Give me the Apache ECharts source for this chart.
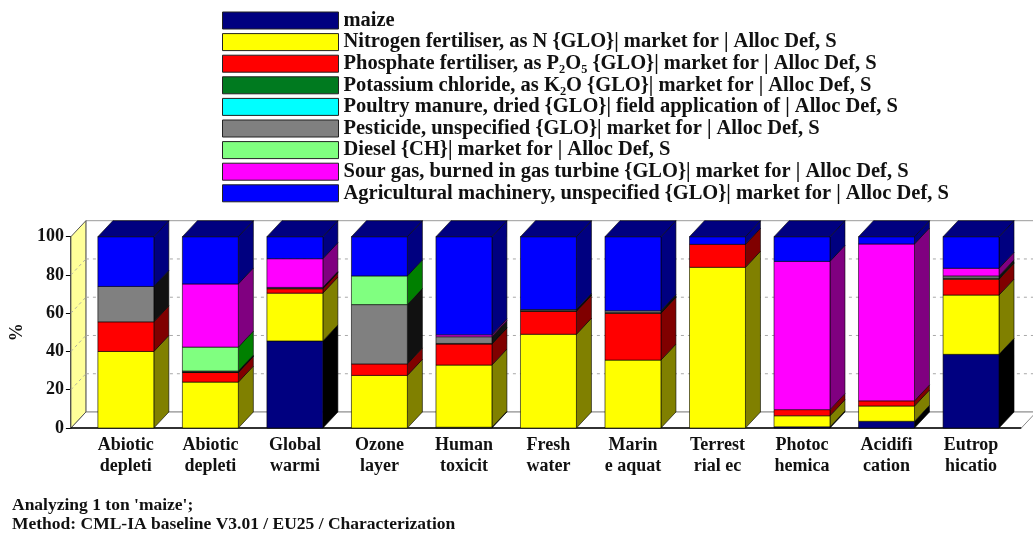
<!DOCTYPE html>
<html>
<head>
<meta charset="utf-8">
<script src="https://cdn.jsdelivr.net/npm/echarts@6/dist/echarts.min.js"></script>
<style>html,body{margin:0;padding:0;background:#fff}#c{width:1033px;height:536px}</style>
</head>
<body>
<div id="c"></div>
<script>
// ---- data ----
const categories = ['Abiotic\ndepleti','Abiotic\ndepleti','Global\nwarmi','Ozone\nlayer','Human\ntoxicit','Fresh\nwater','Marin\ne aquat','Terrest\nrial ec','Photoc\nhemica','Acidifi\ncation','Eutrop\nhicatio'];
const yTicks = [0, 20, 40, 60, 80, 100];
const seriesNames = [
  'maize',
  'Nitrogen fertiliser, as N {GLO}| market for | Alloc Def, S',
  'Phosphate fertiliser, as P\u2082O\u2085 {GLO}| market for | Alloc Def, S',
  'Potassium chloride, as K\u2082O {GLO}| market for | Alloc Def, S',
  'Poultry manure, dried {GLO}| field application of | Alloc Def, S',
  'Pesticide, unspecified {GLO}| market for | Alloc Def, S',
  'Diesel {CH}| market for | Alloc Def, S',
  'Sour gas, burned in gas turbine {GLO}| market for | Alloc Def, S',
  'Agricultural machinery, unspecified {GLO}| market for | Alloc Def, S'
];
const maize      = [0,    0,    45.5, 0,    0.4,  0,    0,    0,  0.6,  3.5, 38.5];
const nitrogen   = [40,   24,   25,   27.5, 32.5, 49,   35.5, 84, 5.8,  8,   31];
const phosphate  = [15.5, 5,    2.3,  6,    11,   12,   24.5, 12, 3.2,  2.7, 8.3];
const potassium  = [0,    0.3,  0.3,  0,    0.3,  0.3,  0.3,  0,  0,    0,   0.5];
const poultry    = [0,    0,    0,    0,    0,    0,    0,    0,  0,    0,   0];
const pesticide  = [18.5, 0.5,  0.4,  31,   3.5,  0.6,  1,    0,  0,    0,   1.2];
const diesel     = [0,    12.5, 0,    15,   0,    0,    0,    0,  0,    0,   0];
const sourGas    = [0,    33,   15,   0,    1,    0,    0,    0,  77.5, 82,  4];
const machinery  = [26,   24.7, 11.5, 20.5, 51.3, 38.1, 38.7, 4,  12.9, 3.8, 16.5];

// ---- styles ----
const frontColors = ['#000080','#ffff00','#ff0000','#007a1f','#00ffff','#808080','#80ff80','#ff00ff','#0000ff'];
const darkColors  = ['#000000','#808000','#800000','#003d10','#008080','#111111','#008000','#800080','#000080'];
const DX = 15, DY = 16, BAR_RATIO = 0.662, AXIS_OFFSET = 12.7;
const FONT = '"Liberation Serif", "Times New Roman", serif';

const layers = [maize, nitrogen, phosphate, potassium, poultry, pesticide, diesel, sourGas, machinery];
const cum = categories.map(() => 0);
const stacked = layers.map(layer => categories.map((_, i) => {
  const b = cum[i]; cum[i] = b + layer[i]; return [i, b, cum[i]];
}));
const topLayer = categories.map((_, i) => {
  let t = -1; layers.forEach((l, k) => { if (l[i] > 0) t = k; }); return t;
});

function barRenderer(k) {
  return function (params, api) {
    const c = api.value(0), b = api.value(1), t = api.value(2);
    if (!(t - b > 0)) return null;
    const p0 = api.coord([c, b]), p1 = api.coord([c, t]);
    const bw = api.size([1, 0])[0] * BAR_RATIO;
    const xl = p0[0] - bw / 2, xr = p0[0] + bw / 2, yb = p0[1], yt = p1[1];
    const edge = {stroke: 'rgba(0,0,0,0.75)', lineWidth: 0.8};
    const children = [
      {type: 'polygon', shape: {points: [[xr, yb], [xr, yt], [xr + DX, yt - DY], [xr + DX, yb - DY]]},
       style: Object.assign({fill: darkColors[k]}, edge)},
      {type: 'rect', shape: {x: xl, y: yt, width: bw, height: yb - yt},
       style: Object.assign({fill: frontColors[k]}, edge)}
    ];
    if (topLayer[c] === k) {
      children.push({type: 'polygon', shape: {points: [[xl, yt], [xl + DX, yt - DY], [xr + DX, yt - DY], [xr, yt]]},
        style: Object.assign({fill: darkColors[k]}, edge)});
    }
    return {type: 'group', children};
  };
}

function frameRenderer(params, api) {
  const cs = params.coordSys;
  const xL = cs.x - AXIS_OFFSET, xR = cs.x + cs.width + 8;
  const y0 = api.coord([0, 0])[1], y100 = api.coord([0, 100])[1];
  const ch = [];
  ch.push({type: 'rect', shape: {x: xL + DX, y: y100 - DY, width: xR - xL, height: y0 - y100},
    style: {fill: '#fff', stroke: '#9a9a9a', lineWidth: 1}});
  ch.push({type: 'polygon', shape: {points: [[xL, y0], [xL + DX, y0 - DY], [xR + DX, y0 - DY], [xR, y0]]},
    style: {fill: '#fff', stroke: '#8a8a8a', lineWidth: 1}});
  ch.push({type: 'polygon', shape: {points: [[xL, y100], [xL + DX, y100 - DY], [xL + DX, y0 - DY], [xL, y0]]},
    style: {fill: '#ffff99', stroke: '#555', lineWidth: 1}});
  yTicks.forEach(v => {
    if (v === 0 || v === 100) return;
    const yv = api.coord([0, v])[1];
    ch.push({type: 'line', shape: {x1: xL + DX, y1: yv - DY, x2: xR + DX, y2: yv - DY},
      style: {stroke: '#a8a8a8', lineWidth: 1, lineDash: [3, 4]}});
    ch.push({type: 'line', shape: {x1: xL, y1: yv, x2: xL + DX, y2: yv - DY},
      style: {stroke: '#b0b0a0', lineWidth: 1, lineDash: [3, 3]}});
  });
  ch.push({type: 'line', shape: {x1: xL, y1: y0, x2: xR, y2: y0}, style: {stroke: '#000', lineWidth: 1.5}});
  return {type: 'group', children: ch};
}

const series = [{
  type: 'custom', name: '__frame', silent: true, z: 1,
  data: [[0, 0, 0]], encode: {x: 0, y: [1, 2]},
  renderItem: frameRenderer
}];
layers.forEach((l, k) => {
  series.push({
    type: 'custom', name: seriesNames[k], z: 2,
    itemStyle: {color: frontColors[k]},
    data: stacked[k], encode: {x: 0, y: [1, 2]},
    renderItem: barRenderer(k)
  });
});

const chart = echarts.init(document.getElementById('c'), null, {renderer: 'canvas'});
chart.setOption({
  animation: false,
  backgroundColor: '#fff',
  grid: {left: 82.7, right: 19.7, top: 236.7, bottom: 108, containLabel: false},
  legend: {
    data: seriesNames, orient: 'vertical', left: 217, top: 5,
    icon: 'rect', itemWidth: 116, itemHeight: 17, itemGap: 0.6, selectedMode: false,
    itemStyle: {borderColor: '#222', borderWidth: 1},
    textStyle: {fontFamily: FONT, fontWeight: 'bold', fontSize: 20.5, color: '#111', lineHeight: 17}
  },
  xAxis: {
    type: 'category', data: categories,
    axisLine: {show: false}, axisTick: {show: false}, splitLine: {show: false},
    axisLabel: {interval: 0, margin: 7, fontFamily: FONT, fontWeight: 'bold', fontSize: 18, lineHeight: 21, color: '#111'}
  },
  yAxis: {
    type: 'value', min: 0, max: 100, interval: 20, offset: AXIS_OFFSET,
    name: '%', nameLocation: 'middle', nameRotate: 90, nameGap: 39,
    nameTextStyle: {fontFamily: FONT, fontWeight: 'bold', fontSize: 18, color: '#111'},
    axisLine: {show: true, lineStyle: {color: '#000', width: 1.5}},
    axisTick: {show: true, length: 5, lineStyle: {color: '#000'}},
    splitLine: {show: false},
    axisLabel: {margin: 7, fontFamily: FONT, fontWeight: 'bold', fontSize: 18, color: '#111'}
  },
  graphic: [
    {type: 'text', left: 12, top: 496, style: {text: "Analyzing 1 ton 'maize';", font: 'bold 17.5px ' + FONT, fill: '#111'}},
    {type: 'text', left: 12, top: 515, style: {text: 'Method: CML-IA baseline V3.01 / EU25 / Characterization', font: 'bold 17.5px ' + FONT, fill: '#111'}}
  ],
  series: series
});
</script>
</body>
</html>
